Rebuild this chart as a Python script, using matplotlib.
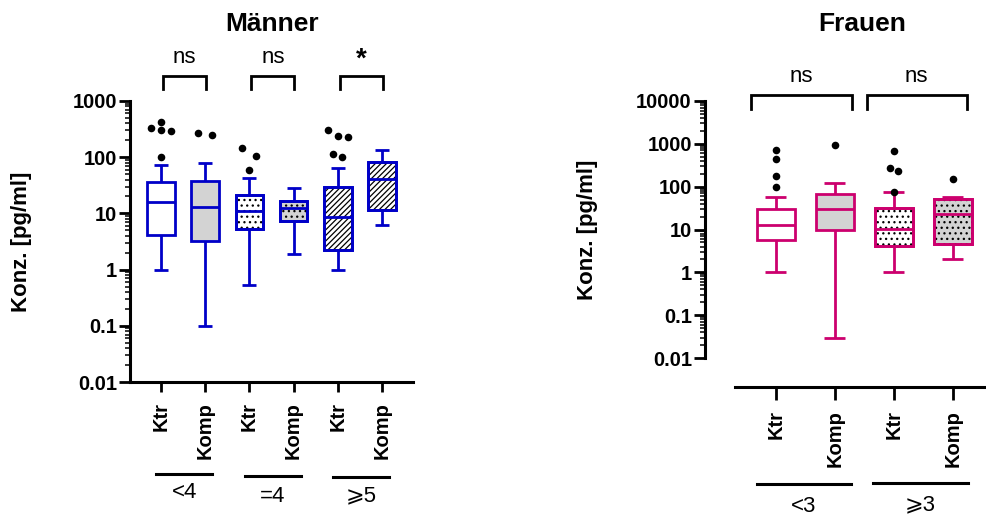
import matplotlib
matplotlib.use("Agg")
import numpy as np
import matplotlib.pyplot as plt
import matplotlib.transforms as mtransforms
from matplotlib.patches import PathPatch
from matplotlib.lines import Line2D
from matplotlib.ticker import FixedLocator, FixedFormatter, LogLocator, NullFormatter

plt.rcParams["font.family"] = ["Liberation Sans", "DejaVu Sans"]
plt.rcParams["hatch.linewidth"] = 0.9

# ---------------- Männer ----------------
m_ticklabels = ["Ktr", "Komp", "Ktr", "Komp", "Ktr", "Komp"]
m_groups = ["<4", "=4", "⩾5"]
m_signif = ["ns", "ns", "*"]
m_whislo = [1.0, 0.1, 0.53, 1.9, 1.0, 6.3]
m_q1 = [4.1, 3.25, 5.3, 7.3, 2.25, 11.7]
m_med = [16.0, 13.2, 11.2, 12.3, 8.5, 41.6]
m_q3 = [36.0, 37.0, 21.3, 16.9, 29.6, 83.5]
m_whishi = [73.0, 79.0, 43.0, 28.4, 64.5, 135.0]
m_outliers = [[333, 417, 310, 290, 101], [266, 245], [146, 105, 60], [],
              [310, 242, 233, 116, 101], []]
m_yticks = [0.01, 0.1, 1, 10, 100, 1000]
m_yticklabels = ["0.01", "0.1", "1", "10", "100", "1000"]

# ---------------- Frauen ----------------
f_ticklabels = ["Ktr", "Komp", "Ktr", "Komp"]
f_groups = ["<3", "⩾3"]
f_signif = ["ns", "ns"]
f_whislo = [1.0, 0.03, 1.0, 2.0]
f_q1 = [5.8, 9.5, 4.1, 4.7]
f_med = [12.5, 29.4, 10.4, 22.5]
f_q3 = [29.4, 68.0, 31.6, 52.0]
f_whishi = [56.0, 125.0, 75.0, 57.0]
f_outliers = [[736, 447, 182, 97], [950], [675, 275, 238, 77], [147]]
f_yticks = [0.01, 0.1, 1, 10, 100, 1000, 10000]
f_yticklabels = ["0.01", "0.1", "1", "10", "100", "1000", "10000"]

# horizontal spread of outlier dots (category units)
m_out_dx = [[-0.23, 0, 0, 0.22, 0], [-0.17, 0.16], [-0.17, 0.16, 0], [],
            [-0.23, 0, 0.22, -0.12, 0.1], []]
f_out_dx = [[0, 0, 0, 0], [0], [0, -0.065, 0.065, 0], [0]]

BLUE = "#0000C8"
PINK = "#CC006E"
GREY = "#D3D3D3"
W, H = 987, 517

fig = plt.figure(figsize=(W / 100, H / 100), dpi=100)


def fx(px):
    return px / W


def fy(py):
    return 1 - py / H


def draw_boxes(ax, whislo, q1, med, q3, whishi, outliers, out_dx, color,
               fills, hatches, width, capwidth):
    stats = [dict(whislo=a, q1=b, med=c, q3=d, whishi=e, fliers=[])
             for a, b, c, d, e in zip(whislo, q1, med, q3, whishi)]
    pos = np.arange(len(stats))
    lw = 2.0
    bp = ax.bxp(stats, positions=pos, widths=width, capwidths=capwidth,
                patch_artist=True, showfliers=False, manage_ticks=False,
                boxprops=dict(edgecolor=color, linewidth=lw, zorder=2),
                whiskerprops=dict(color=color, linewidth=lw, solid_capstyle="butt"),
                capprops=dict(color=color, linewidth=lw, solid_capstyle="butt"),
                medianprops=dict(color=color, linewidth=lw, zorder=3.2,
                                 solid_capstyle="butt"))
    for box, fc, h in zip(bp["boxes"], fills, hatches):
        box.set_facecolor(fc)
        if h:
            ax.add_patch(PathPatch(box.get_path(), transform=box.get_transform(),
                                   facecolor="none", edgecolor="black", lw=0,
                                   hatch=h, zorder=2.5))
            ax.add_patch(PathPatch(box.get_path(), transform=box.get_transform(),
                                   facecolor="none", edgecolor=color, lw=lw,
                                   zorder=3))
    for i, (vals, dxs) in enumerate(zip(outliers, out_dx)):
        if vals:
            ax.scatter(i + np.array(dxs), vals, s=30, color="black",
                       zorder=4, clip_on=False, linewidths=0)


def style_axis(ax, yticks, yticklabels, ticklabels, xtick_len=7.5, xpad=7):
    ax.set_yscale("log")
    ax.yaxis.set_major_locator(FixedLocator(yticks))
    ax.yaxis.set_major_formatter(FixedFormatter(yticklabels))
    ax.yaxis.set_minor_locator(LogLocator(base=10, subs=np.arange(2, 10), numticks=50))
    ax.yaxis.set_minor_formatter(NullFormatter())
    ax.set_ylim(yticks[0], yticks[-1])
    for s in ("top", "right"):
        ax.spines[s].set_visible(False)
    for s in ("left", "bottom"):
        ax.spines[s].set_linewidth(2.2)
    ax.tick_params(axis="y", which="major", length=8, width=2.0, pad=1.5,
                   labelsize=14.5)
    ax.tick_params(axis="y", which="minor", length=3.6, width=1.1)
    ax.tick_params(axis="x", which="major", length=xtick_len, width=2.0,
                   pad=xpad, labelsize=14.5)
    for lab in ax.get_yticklabels():
        lab.set_fontweight("bold")
    ax.set_xticks(np.arange(len(ticklabels)))
    ax.set_xticklabels(ticklabels, rotation=90, fontweight="bold",
                       fontsize=14.5, va="top", ha="center")


# ---------------- left panel ----------------
axL = fig.add_axes([fx(130), fy(382), fx(413) - fx(130), fy(101) - fy(382)])
draw_boxes(axL, m_whislo, m_q1, m_med, m_q3, m_whishi, m_outliers, m_out_dx,
           BLUE, ["white", GREY, "white", GREY, "white", "white"],
           [None, None, "...", "...", "//////", "//////"], 0.62, 0.32)
style_axis(axL, m_yticks, m_yticklabels, m_ticklabels)
axL.set_xlim(-0.7, 5.7)
axL.set_ylabel("Konz. [pg/ml]", fontsize=16, fontweight="bold", va="center")
axL.yaxis.set_label_coords(-0.382, 0.5)

trL = mtransforms.blended_transform_factory(axL.transData, axL.transAxes)
for k, sig in enumerate(m_signif):
    a, b = 2 * k + 0.04, 2 * k + 1.02
    axL.plot([a, a, b, b], [1.042, 1.09, 1.09, 1.042], color="black", lw=2.0,
             transform=trL, clip_on=False, solid_joinstyle="miter")
    if sig == "*":
        axL.text((a + b) / 2, 1.147, sig, transform=trL, ha="center",
                 va="center", fontsize=20, fontweight="bold")
    else:
        axL.text((a + b) / 2, 1.135, sig, transform=trL, ha="center",
                 va="baseline", fontsize=16)

gL = mtransforms.blended_transform_factory(axL.transData, fig.transFigure)
for k, (g, ly, ty) in enumerate(zip(m_groups, [474, 476, 477], [493, 497, 496])):
    a, b = 2 * k - 0.11, 2 * k + 1.16
    fig.add_artist(Line2D([a, b], [fy(ly)] * 2, transform=gL, color="black",
                          lw=2.2))
    fig.text((a + b) / 2, fy(ty), g, transform=gL, ha="center", va="center",
             fontsize=16)

fig.text(fx(272), fy(24), "Männer", ha="center", va="center", fontsize=19,
         fontweight="bold")

# ---------------- right panel ----------------
axR = fig.add_axes([fx(705), fy(358), 1 - fx(705), fy(101) - fy(358)])
# detached x axis below the plotting area
axR.spines["bottom"].set_position(("outward", 20.7))
draw_boxes(axR, f_whislo, f_q1, f_med, f_q3, f_whishi, f_outliers, f_out_dx,
           PINK, ["white", GREY, "white", GREY], [None, None, "...", "..."],
           0.64, 0.36)
style_axis(axR, f_yticks, f_yticklabels, f_ticklabels, xtick_len=9, xpad=7.5)
axR.set_xlim(-1.2, 3.58)
axR.spines["bottom"].set_bounds(-0.69, 3.58)
axR.set_ylabel("Konz. [pg/ml]", fontsize=16, fontweight="bold", va="center")
axR.yaxis.set_label_coords(-0.418, 0.5)

trR = mtransforms.blended_transform_factory(axR.transData, axR.transAxes)
for (a, b), sig in zip([(-0.42, 1.29), (1.54, 3.24)], f_signif):
    axR.plot([a, a, b, b], [0.969, 1.023, 1.023, 0.969], color="black", lw=2.0,
             transform=trR, clip_on=False, solid_joinstyle="miter")
    axR.text((a + b) / 2, 1.074, sig, transform=trR, ha="center",
             va="baseline", fontsize=16)

gR = mtransforms.blended_transform_factory(axR.transData, fig.transFigure)
for (a, b), g, ly, ty in zip([(-0.32, 1.27), (1.64, 3.25)], f_groups,
                             [484, 483], [507, 505]):
    fig.add_artist(Line2D([a, b], [fy(ly)] * 2, transform=gR, color="black",
                          lw=2.2))
    fig.text((a + b) / 2, fy(ty), g, transform=gR, ha="center", va="center",
             fontsize=16)

fig.text(fx(862), fy(24), "Frauen", ha="center", va="center", fontsize=19,
         fontweight="bold")

fig.savefig("out.png", dpi=100)
